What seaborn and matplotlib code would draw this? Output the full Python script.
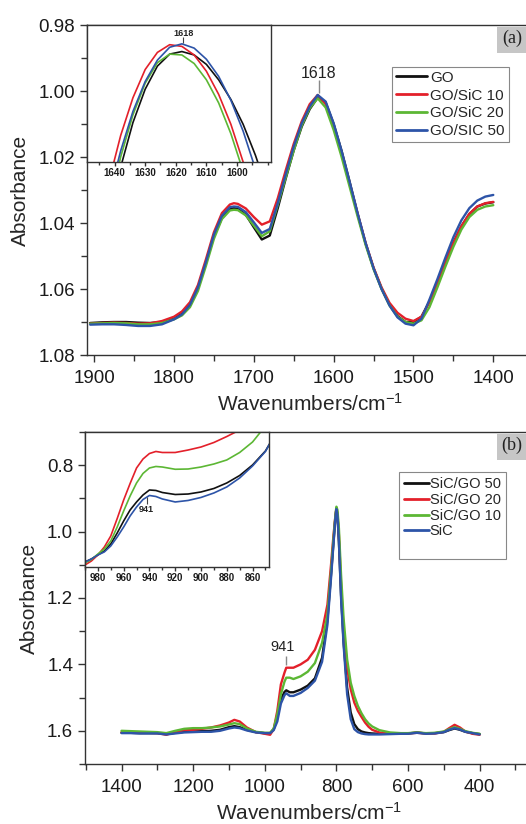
import matplotlib
matplotlib.use("Agg")
import matplotlib.pyplot as plt
import seaborn as sns
import pandas as pd
from matplotlib.lines import Line2D
from matplotlib.patches import Rectangle
from matplotlib.ticker import MultipleLocator

# ---------------- data: panel (a) ----------------
top_labels = ["GO", "GO/SiC 10", "GO/SiC 20", "GO/SIC 50"]
top_wn = [1905, 1890, 1875, 1860, 1845, 1830, 1815, 1800, 1790, 1780, 1770, 1760,
          1750, 1740, 1730, 1725, 1720, 1710, 1700, 1690, 1680, 1670, 1660, 1650,
          1640, 1630, 1620, 1610, 1600, 1590, 1580, 1570, 1560, 1550, 1540, 1530,
          1520, 1510, 1500, 1490, 1480, 1470, 1460, 1450, 1440, 1430, 1420, 1410, 1400]
top_go = [1.0703, 1.0701, 1.0700, 1.0700, 1.0702, 1.0703, 1.0700, 1.0690, 1.0675, 1.0648, 1.0597, 1.0522,
          1.0440, 1.0385, 1.0358, 1.0355, 1.0357, 1.0375, 1.0413, 1.0450, 1.0438, 1.0355, 1.0265, 1.0180,
          1.0108, 1.0055, 1.0020, 1.0035, 1.0100, 1.0182, 1.0275, 1.0372, 1.0462, 1.0537, 1.0598, 1.0648,
          1.0682, 1.0700, 1.0700, 1.0684, 1.0638, 1.0580, 1.0518, 1.0460, 1.0410, 1.0373, 1.0350, 1.0341, 1.0337]
top_gs10 = [1.0705, 1.0703, 1.0702, 1.0703, 1.0705, 1.0704, 1.0697, 1.0684, 1.0668, 1.0640, 1.0588, 1.0510,
            1.0428, 1.0370, 1.0344, 1.0340, 1.0342, 1.0356, 1.0382, 1.0405, 1.0395, 1.0325, 1.0240, 1.0160,
            1.0092, 1.0040, 1.0012, 1.0040, 1.0108, 1.0190, 1.0280, 1.0372, 1.0460, 1.0535, 1.0595, 1.0642,
            1.0672, 1.0690, 1.0697, 1.0684, 1.0640, 1.0580, 1.0518, 1.0460, 1.0410, 1.0372, 1.0350, 1.0340, 1.0336]
top_gs20 = [1.0705, 1.0704, 1.0703, 1.0704, 1.0707, 1.0707, 1.0703, 1.0692, 1.0680, 1.0655, 1.0606, 1.0530,
            1.0448, 1.0388, 1.0362, 1.0360, 1.0361, 1.0377, 1.0408, 1.0440, 1.0425, 1.0345, 1.0262, 1.0180,
            1.0105, 1.0052, 1.0022, 1.0050, 1.0118, 1.0200, 1.0290, 1.0380, 1.0466, 1.0540, 1.0600, 1.0650,
            1.0684, 1.0700, 1.0705, 1.0695, 1.0655, 1.0595, 1.0532, 1.0472, 1.0420, 1.0382, 1.0360, 1.0350, 1.0346]
top_gs50 = [1.0708, 1.0707, 1.0707, 1.0709, 1.0712, 1.0712, 1.0707, 1.0692, 1.0677, 1.0648, 1.0595, 1.0518,
            1.0435, 1.0378, 1.0352, 1.0350, 1.0351, 1.0367, 1.0398, 1.0430, 1.0418, 1.0340, 1.0252, 1.0168,
            1.0098, 1.0047, 1.0012, 1.0032, 1.0098, 1.0182, 1.0275, 1.0370, 1.0460, 1.0537, 1.0600, 1.0650,
            1.0686, 1.0705, 1.0710, 1.0690, 1.0632, 1.0570, 1.0505, 1.0443, 1.0392, 1.0355, 1.0332, 1.0320, 1.0315]

ins_a_wn = [1650, 1646, 1642, 1638, 1634, 1630, 1626, 1622, 1618, 1614, 1610, 1606, 1602, 1598, 1594, 1590, 1586]
ins_a_go = [1.0382, 1.0294, 1.0219, 1.0156, 1.0104, 1.0065, 1.0038, 1.0024, 1.0021, 1.0025, 1.0036, 1.0054, 1.0077, 1.0106, 1.0142, 1.0184, 1.0232]
ins_a_gs10 = [1.0323, 1.0243, 1.0175, 1.0119, 1.0075, 1.0042, 1.0022, 1.0013, 1.0015, 1.0025, 1.0044, 1.0071, 1.0106, 1.0150, 1.0202, 1.0262, 1.0331]
ins_a_gs20 = [1.0371, 1.0282, 1.0207, 1.0144, 1.0095, 1.0058, 1.0034, 1.0024, 1.0025, 1.0035, 1.0054, 1.0081, 1.0117, 1.0161, 1.0213, 1.0275, 1.0345]
ins_a_gs50 = [1.0338, 1.0260, 1.0193, 1.0137, 1.0091, 1.0056, 1.0031, 1.0016, 1.0012, 1.0017, 1.0030, 1.0050, 1.0078, 1.0114, 1.0158, 1.0210, 1.0269]

# ---------------- data: panel (b) ----------------
bot_labels = ["SiC/GO 50", "SiC/GO 20", "SiC/GO 10", "SiC"]
bot_wn = [1400, 1375, 1350, 1325, 1300, 1275, 1250, 1225, 1200, 1175, 1150, 1125, 1100, 1085, 1070,
          1050, 1025, 1000, 985, 975, 965, 955, 945, 940, 930, 920, 900, 880, 860, 840, 825, 815,
          808, 803, 800, 797, 793, 787, 780, 770, 760, 750, 740, 730, 720, 710, 700, 680, 650, 620,
          600, 575, 550, 525, 500, 485, 470, 455, 440, 420, 400]
bot_sg50 = [1.606, 1.606, 1.607, 1.607, 1.607, 1.610, 1.606, 1.603, 1.602, 1.601, 1.600, 1.597, 1.589, 1.586, 1.589,
            1.597, 1.604, 1.607, 1.607, 1.595, 1.560, 1.505, 1.483, 1.478, 1.484, 1.484, 1.476, 1.464, 1.442, 1.380, 1.265, 1.130,
            1.030, 0.960, 0.930, 0.950, 1.030, 1.190, 1.330, 1.470, 1.545, 1.580, 1.595, 1.602, 1.605, 1.607, 1.608, 1.609, 1.609, 1.608,
            1.608, 1.605, 1.608, 1.607, 1.604, 1.598, 1.593, 1.597, 1.603, 1.607, 1.610]
bot_sg20 = [1.604, 1.605, 1.606, 1.606, 1.607, 1.612, 1.604, 1.598, 1.597, 1.594, 1.590, 1.584, 1.575, 1.567, 1.572,
            1.590, 1.604, 1.609, 1.612, 1.595, 1.540, 1.460, 1.425, 1.410, 1.410, 1.410, 1.400, 1.386, 1.356, 1.300, 1.220, 1.100,
            1.010, 0.955, 0.930, 0.945, 1.010, 1.160, 1.290, 1.410, 1.475, 1.515, 1.540, 1.558, 1.575, 1.588, 1.597, 1.605, 1.609, 1.609,
            1.608, 1.606, 1.608, 1.608, 1.603, 1.592, 1.582, 1.590, 1.602, 1.609, 1.612]
bot_sg10 = [1.600, 1.601, 1.602, 1.603, 1.604, 1.607, 1.600, 1.594, 1.592, 1.592, 1.590, 1.587, 1.581, 1.577, 1.580,
            1.593, 1.603, 1.606, 1.606, 1.593, 1.550, 1.490, 1.452, 1.440, 1.440, 1.444, 1.436, 1.422, 1.396, 1.335, 1.250, 1.120,
            1.020, 0.955, 0.925, 0.935, 0.990, 1.130, 1.260, 1.385, 1.455, 1.495, 1.525, 1.547, 1.565, 1.578, 1.587, 1.598, 1.605, 1.607,
            1.607, 1.605, 1.607, 1.606, 1.602, 1.595, 1.589, 1.594, 1.601, 1.606, 1.609]
bot_sic = [1.607, 1.607, 1.608, 1.608, 1.608, 1.611, 1.608, 1.605, 1.604, 1.603, 1.603, 1.600, 1.593, 1.590, 1.592,
           1.599, 1.605, 1.607, 1.607, 1.598, 1.572, 1.518, 1.493, 1.487, 1.495, 1.495, 1.486, 1.471, 1.449, 1.392, 1.280, 1.140,
           1.035, 0.962, 0.932, 0.950, 1.030, 1.200, 1.340, 1.490, 1.565, 1.595, 1.604, 1.608, 1.610, 1.611, 1.611, 1.611, 1.610, 1.609,
           1.609, 1.606, 1.609, 1.608, 1.604, 1.597, 1.592, 1.596, 1.603, 1.607, 1.611]

ins_b_wn = [990, 985, 980, 975, 970, 965, 960, 955, 950, 945, 940, 935, 930, 920, 910, 900, 890, 880, 870, 860, 850, 845]
ins_b_sg50 = [1.6196, 1.6141, 1.6066, 1.5992, 1.5862, 1.5657, 1.5434, 1.5230, 1.5081, 1.4951, 1.4858, 1.4867, 1.4905, 1.4942, 1.4933, 1.4895, 1.4830, 1.4728, 1.4589, 1.4393, 1.4133, 1.3929]
ins_b_sg20 = [1.6252, 1.6178, 1.6066, 1.5918, 1.5713, 1.5388, 1.5044, 1.4737, 1.4449, 1.4282, 1.4180, 1.4142, 1.4161, 1.4161, 1.4115, 1.4059, 1.3975, 1.3864, 1.3743, 1.3557, 1.3334, 1.3185]
ins_b_sg10 = [1.6215, 1.6150, 1.6048, 1.5955, 1.5806, 1.5546, 1.5248, 1.4970, 1.4728, 1.4551, 1.4449, 1.4421, 1.4431, 1.4473, 1.4468, 1.4431, 1.4375, 1.4300, 1.4161, 1.3966, 1.3668, 1.3520]
ins_b_sic = [1.6196, 1.6141, 1.6066, 1.6010, 1.5899, 1.5732, 1.5546, 1.5341, 1.5174, 1.5035, 1.4960, 1.4979, 1.5025, 1.5081, 1.5053, 1.4997, 1.4914, 1.4802, 1.4635, 1.4412, 1.4142, 1.3929]

top_xticks = [1900, 1800, 1700, 1600, 1500, 1400]
top_yticks = [0.98, 1.00, 1.02, 1.04, 1.06, 1.08]
top_yticklabels = ["0.98", "1.00", "1.02", "1.04", "1.06", "1.08"]
bot_xticks = [1400, 1200, 1000, 800, 600, 400]
bot_yticks = [0.8, 1.0, 1.2, 1.4, 1.6]
bot_yticklabels = ["0.8", "1.0", "1.2", "1.4", "1.6"]
ins_a_xticks = [1640, 1630, 1620, 1610, 1600]
ins_b_xticks = [980, 960, 940, 920, 900, 880, 860]

colors = ["#111111", "#e3202a", "#5cb734", "#2d54a8"]


def long_df(wn, labels, series):
    rows = []
    for lab, vals in zip(labels, series):
        for w, v in zip(wn, vals):
            rows.append({"wn": w, "A": v, "s": lab})
    return pd.DataFrame(rows)


df_top = long_df(top_wn, top_labels, [top_go, top_gs10, top_gs20, top_gs50])
df_ins_a = long_df(ins_a_wn, top_labels, [ins_a_go, ins_a_gs10, ins_a_gs20, ins_a_gs50])
df_bot = long_df(bot_wn, bot_labels, [bot_sg50, bot_sg20, bot_sg10, bot_sic])
df_ins_b = long_df(ins_b_wn, bot_labels, [ins_b_sg50, ins_b_sg20, ins_b_sg10, ins_b_sic])

sns.set_style("ticks")
plt.rcParams["font.family"] = ["Liberation Sans", "DejaVu Sans"]
plt.rcParams["mathtext.default"] = "regular"

W, H = 526, 824
fig = plt.figure(figsize=(W / 100, H / 100), dpi=100)
fig.patch.set_facecolor("white")


def frac(x0, y0, x1, y1):
    return [x0 / W, 1 - y1 / H, (x1 - x0) / W, (y1 - y0) / H]


ax1 = fig.add_axes(frac(87, 25, 534, 355))
ax2 = fig.add_axes(frac(85, 432, 533, 764))
ins1 = fig.add_axes(frac(87, 25, 270.7, 162))
ins2 = fig.add_axes(frac(85, 432, 269.3, 567))

spine_c = "#333333"


def style_axes(ax, lab_size, major_len, minor_len):
    for sp in ax.spines.values():
        sp.set_visible(True)
        sp.set_color(spine_c)
        sp.set_linewidth(1.0)
    ax.tick_params(which="major", direction="out", length=major_len, width=1,
                   color=spine_c, labelsize=lab_size, labelcolor="#1a1a1a")
    ax.tick_params(which="minor", direction="out", length=minor_len, width=1, color=spine_c)


# ---- panel (a)
sns.lineplot(data=df_top, x="wn", y="A", hue="s", hue_order=top_labels, palette=colors,
             estimator=None, sort=False, linewidth=1.7, legend=False, ax=ax1)
ax1.set_xlim(1909, 1349)
ax1.set_ylim(1.08, 0.98)
ax1.set_xticks(top_xticks)
ax1.set_xticklabels([str(t) for t in top_xticks])
ax1.set_yticks(top_yticks)
ax1.set_yticklabels(top_yticklabels)
ax1.xaxis.set_minor_locator(MultipleLocator(50))
ax1.yaxis.set_minor_locator(MultipleLocator(0.01))
style_axes(ax1, 13.5, 5, 4)
ax1.tick_params(axis="x", pad=6)
ax1.set_xlabel("Wavenumbers/cm$^{-1}$", fontsize=15, labelpad=4)
ax1.set_ylabel("Absorbance", fontsize=15, labelpad=6)
ax1.vlines(1618, 0.9967, 1.0006, color="#888888", linewidth=1)
ax1.text(1619, 0.9946, "1618", ha="center", va="center", fontsize=11.5, color="#222222")

handles = [Line2D([], [], color=c, lw=2) for c in colors]
leg1 = ax1.legend(handles, top_labels, loc="upper left", bbox_to_anchor=(0.682, 0.873),
                  fontsize=11, frameon=True, fancybox=False, framealpha=1, borderpad=0.25,
                  labelspacing=0.25, handlelength=2.05, handletextpad=0.22, borderaxespad=0)
leg1.get_frame().set_edgecolor("#888888")
leg1.get_frame().set_linewidth(0.8)

sns.lineplot(data=df_ins_a, x="wn", y="A", hue="s", hue_order=top_labels, palette=colors,
             estimator=None, sort=False, linewidth=1.2, legend=False, ax=ins1)
ins1.set_xlim(1649, 1589)
ins1.set_ylim(1.0150, 0.9990)
ins1.set_xticks(ins_a_xticks)
ins1.set_xticklabels([str(t) for t in ins_a_xticks], fontweight="bold")
ins1.xaxis.set_minor_locator(MultipleLocator(5))
ins1.set_yticks([])
style_axes(ins1, 7, 3, 2)
ins1.tick_params(axis="x", pad=1.5)
ins1.set_xlabel("")
ins1.set_ylabel("")
ins1.set_facecolor("white")
ins1.vlines(1617.5, 1.0004, 1.00115, color="#444444", linewidth=0.8)
ins1.text(1617.3, 0.99995, "1618", ha="center", va="center", fontsize=6.5,
          fontweight="bold", color="#222222")

# ---- panel (b)
sns.lineplot(data=df_bot, x="wn", y="A", hue="s", hue_order=bot_labels, palette=colors,
             estimator=None, sort=False, linewidth=1.7, legend=False, ax=ax2)
ax2.set_xlim(1502, 251)
ax2.set_ylim(1.70, 0.70)
ax2.set_xticks(bot_xticks)
ax2.set_xticklabels([str(t) for t in bot_xticks])
ax2.set_yticks(bot_yticks)
ax2.set_yticklabels(bot_yticklabels)
ax2.xaxis.set_minor_locator(MultipleLocator(100))
ax2.yaxis.set_minor_locator(MultipleLocator(0.1))
style_axes(ax2, 13.5, 5, 4)
ax2.tick_params(axis="x", pad=6)
ax2.set_xlabel("Wavenumbers/cm$^{-1}$", fontsize=15, labelpad=4)
ax2.set_ylabel("Absorbance", fontsize=15, labelpad=6)
ax2.vlines(941, 1.3744, 1.4015, color="#888888", linewidth=1)
ax2.text(949, 1.348, "941", ha="center", va="center", fontsize=10.5, color="#222222")

handles2 = [Line2D([], [], color=c, lw=2) for c in colors] + [Line2D([], [], color="none")]
leg2 = ax2.legend(handles2, bot_labels + [" "], loc="upper left", bbox_to_anchor=(0.701, 0.8795),
                  fontsize=10.5, frameon=True, fancybox=False, framealpha=1, borderpad=0.35,
                  labelspacing=0.12, handlelength=1.7, handletextpad=0.05, borderaxespad=0)
leg2.get_frame().set_edgecolor("#888888")
leg2.get_frame().set_linewidth(0.8)

sns.lineplot(data=df_ins_b, x="wn", y="A", hue="s", hue_order=bot_labels, palette=colors,
             estimator=None, sort=False, linewidth=1.2, legend=False, ax=ins2)
ins2.set_xlim(990, 847)
ins2.set_ylim(1.629, 1.378)
ins2.set_xticks(ins_b_xticks)
ins2.set_xticklabels([str(t) for t in ins_b_xticks], fontweight="bold")
ins2.xaxis.set_minor_locator(MultipleLocator(10))
ins2.set_yticks([])
style_axes(ins2, 7, 3, 2)
ins2.tick_params(axis="x", pad=1.5)
ins2.set_xlabel("")
ins2.set_ylabel("")
ins2.set_facecolor("white")
ins2.vlines(942, 1.4983, 1.5118, color="#444444", linewidth=0.8)
ins2.text(942.4, 1.523, "941", ha="center", va="center", fontsize=6.5,
          fontweight="bold", color="#222222")

# ---- panel tags
for y0, tag in [(27, "(a)"), (434, "(b)")]:
    fig.patches.append(Rectangle((497 / W, 1 - (y0 + 26) / H), 40 / W, 26 / H,
                                 transform=fig.transFigure, facecolor="#c6c6c6",
                                 edgecolor="none", zorder=5))
    fig.text(512 / W, 1 - (y0 + 11) / H, tag, ha="center", va="center", fontsize=13,
             family=["Liberation Serif", "DejaVu Serif"], color="#222222", zorder=6)

fig.savefig("out.png", dpi=100, facecolor="white")
